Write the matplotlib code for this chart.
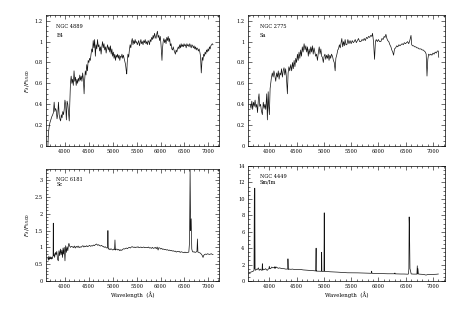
import matplotlib
matplotlib.use("Agg")
import matplotlib.pyplot as plt
from matplotlib.ticker import MultipleLocator, FuncFormatter

# ---------------- data ----------------
e4_wave = [3650,3660,3675,3690,3710,3730,3750,3765,3780,3795,3810,3825,3840,3855,3870,3885,3900,3915,3930,3945,
           3960,3975,3990,4005,4020,4035,4050,4065,4080,4095,4110,4120,4135,4150,4165,4180,4195,4210,4225,4240,
           4255,4270,4285,4300,4315,4330,4345,4360,4375,4390,4405,4415,4430,4445,4460,4475,4490,4505,4520,4535,
           4550,4565,4580,4595,4610,4625,4640,4655,4670,4685,4700,4715,4730,4745,4760,4775,4790,4805,4820,4835,
           4850,4865,4880,4895,4910,4925,4940,4955,4970,4985,5000,5015,5030,5045,5060,5075,5090,5105,5120,5135,
           5150,5165,5180,5195,5210,5225,5240,5255,5270,5285,5295,5305,5320,5335,5350,5365,5380,5395,5410,5425,
           5440,5455,5470,5485,5500,5515,5530,5545,5560,5575,5590,5605,5620,5635,5650,5665,5680,5695,5710,5725,
           5740,5755,5770,5785,5800,5815,5830,5845,5860,5875,5890,5905,5920,5935,5950,5965,5980,5995,6010,6020,
           6030,6040,6055,6070,6085,6100,6115,6130,6145,6160,6175,6190,6205,6220,6235,6250,6265,6280,6295,6310,
           6325,6340,6355,6370,6385,6400,6415,6430,6445,6460,6475,6490,6505,6520,6535,6550,6565,6580,6595,6610,
           6625,6640,6655,6670,6685,6700,6715,6730,6745,6760,6775,6790,6805,6820,6835,6850,6860,6870,6885,6900,
           6915,6930,6945,6960,6975,6990,7005,7020,7035,7050,7065,7080,7095]
e4_flux = [0.00,0.12,0.18,0.22,0.25,0.28,0.30,0.32,0.42,0.33,0.36,0.34,0.26,0.30,0.42,0.30,0.26,0.24,0.30,0.27,
           0.33,0.30,0.35,0.44,0.40,0.25,0.43,0.40,0.32,0.24,0.44,0.60,0.67,0.60,0.64,0.58,0.72,0.62,0.66,0.58,
           0.64,0.60,0.65,0.62,0.68,0.63,0.67,0.62,0.70,0.64,0.50,0.62,0.72,0.68,0.78,0.72,0.82,0.80,0.84,0.82,
           0.88,0.93,0.90,1.01,0.94,1.02,0.86,0.97,0.93,1.02,0.95,0.97,0.91,0.95,0.88,0.95,1.00,0.94,0.98,0.92,
           0.95,0.89,0.94,0.97,0.92,0.95,0.90,0.96,0.88,0.93,0.86,0.90,0.84,0.88,0.82,0.87,0.85,0.88,0.84,0.87,
           0.82,0.86,0.85,0.88,0.84,0.87,0.84,0.81,0.78,0.72,0.69,0.80,0.88,0.85,0.92,0.97,0.94,1.00,1.03,0.97,
           1.01,0.98,1.02,0.99,1.00,0.97,0.99,1.01,0.96,0.99,1.02,0.98,1.00,0.97,1.01,0.99,1.02,0.98,1.00,0.97,
           1.01,1.00,0.97,1.02,1.00,1.04,1.02,1.06,1.03,1.08,1.05,1.03,1.07,1.10,1.04,1.06,1.01,1.05,0.97,0.90,
           0.82,0.93,1.00,1.03,0.99,1.02,0.98,1.04,1.01,1.05,1.00,1.03,0.96,0.98,0.93,0.92,0.95,0.92,0.90,0.88,
           0.92,0.90,0.93,0.95,0.93,0.97,0.94,0.98,0.95,0.97,0.95,0.98,0.96,0.97,0.94,0.98,0.96,0.97,0.95,0.98,
           0.96,0.94,0.97,0.96,0.94,0.96,0.93,0.95,0.92,0.94,0.93,0.91,0.93,0.90,0.86,0.70,0.78,0.85,0.82,0.88,
           0.86,0.90,0.88,0.92,0.90,0.93,0.91,0.95,0.93,0.96,0.97,0.98,0.97]

sa_wave = [3650,3665,3680,3695,3710,3725,3740,3755,3770,3785,3800,3812,3825,3840,3855,3873,3890,3905,3920,3935,
           3953,3965,3980,3990,4002,4015,4038,4055,4070,4085,4100,4118,4135,4150,4165,4180,4195,4210,4225,4240,
           4255,4270,4285,4300,4315,4332,4345,4360,4375,4393,4410,4425,4440,4455,4470,4485,4500,4516,4530,4545,
           4560,4575,4590,4605,4620,4638,4655,4670,4685,4700,4715,4730,4745,4760,4775,4790,4805,4820,4835,4850,
           4865,4883,4900,4915,4930,4945,4960,4974,4990,5005,5020,5035,5050,5066,5080,5095,5110,5125,5140,5158,
           5175,5190,5207,5220,5240,5255,5268,5285,5300,5315,5329,5345,5360,5375,5390,5405,5421,5440,5460,5480,
           5500,5520,5540,5556,5575,5595,5615,5635,5655,5678,5700,5720,5740,5760,5780,5800,5820,5840,5860,5880,
           5892,5910,5929,5945,5960,5980,6000,6020,6045,6065,6085,6105,6120,6137,6155,6170,6190,6210,6229,6245,
           6262,6278,6295,6315,6335,6355,6375,6395,6413,6435,6455,6475,6495,6515,6535,6555,6575,6597,6610,6625,
           6645,6665,6685,6705,6725,6745,6765,6780,6800,6820,6840,6860,6875,6890,6905,6920,6940,6960,6980,7000,
           7020,7040,7060,7080,7097,7105]
sa_flux = [0.40,0.36,0.43,0.35,0.42,0.38,0.44,0.37,0.40,0.32,0.45,0.50,0.38,0.40,0.34,0.30,0.42,0.36,0.40,0.35,
           0.50,0.25,0.52,0.38,0.30,0.55,0.65,0.70,0.66,0.72,0.68,0.62,0.70,0.66,0.72,0.64,0.70,0.68,0.74,0.66,
           0.72,0.75,0.68,0.74,0.65,0.50,0.70,0.76,0.72,0.78,0.72,0.80,0.74,0.82,0.76,0.84,0.80,0.88,0.82,0.90,
           0.84,0.92,0.86,0.95,0.90,0.98,0.92,0.96,0.90,0.95,0.86,0.93,0.88,0.95,0.90,0.96,0.88,0.94,0.90,0.86,
           0.88,0.82,0.90,0.95,0.88,0.93,0.86,0.85,0.80,0.86,0.88,0.83,0.87,0.84,0.88,0.82,0.87,0.84,0.88,0.86,
           0.82,0.80,0.72,0.84,0.88,0.92,0.93,0.97,0.94,0.99,1.03,0.95,1.00,0.96,1.02,0.97,0.97,1.02,0.98,1.01,
           0.98,1.01,0.99,1.00,1.02,0.99,1.01,1.03,1.00,1.00,1.02,1.01,1.03,1.01,1.04,1.03,1.05,1.04,1.06,1.05,
           1.08,1.00,0.83,1.00,1.02,1.00,1.02,1.00,1.00,1.03,1.02,1.05,1.04,1.07,1.03,1.01,1.00,0.97,0.95,0.92,
           0.90,0.87,0.93,0.94,0.96,0.95,0.97,0.96,0.97,0.98,0.97,0.99,0.98,0.99,1.00,0.98,1.01,1.06,0.97,0.96,
           0.96,0.95,0.95,0.94,0.94,0.93,0.93,0.93,0.92,0.92,0.91,0.90,0.88,0.67,0.83,0.88,0.87,0.88,0.87,0.89,
           0.88,0.90,0.89,0.91,0.91,0.85]

sc_wave = [3650,3660,3670,3680,3690,3700,3710,3720,3730,3740,3750,3758,3762,3766,3775,3790,3805,3820,3835,3850,
           3867,3880,3895,3910,3925,3940,3955,3965,3975,3990,4006,4020,4035,4050,4065,4080,4089,4100,4120,4140,
           4160,4180,4200,4220,4240,4260,4280,4300,4320,4340,4360,4380,4400,4420,4440,4460,4480,4500,4520,4540,
           4560,4580,4600,4620,4640,4665,4690,4710,4730,4750,4770,4790,4805,4825,4845,4865,4885,4895,4902,4910,
           4925,4945,4965,4985,5005,5025,5040,5049,5058,5070,5090,5110,5130,5151,5170,5190,5210,5230,5250,5270,
           5290,5310,5330,5350,5370,5390,5410,5430,5450,5470,5490,5510,5530,5550,5570,5590,5610,5630,5650,5670,
           5690,5710,5730,5750,5770,5790,5810,5830,5850,5870,5890,5910,5930,5949,5965,5985,6005,6025,6045,6065,
           6085,6105,6125,6145,6165,6185,6205,6225,6245,6265,6285,6305,6330,6350,6370,6390,6410,6430,6450,6470,
           6490,6510,6530,6550,6570,6590,6605,6617,6628,6640,6652,6665,6680,6700,6720,6740,6760,6770,6780,6795,
           6810,6830,6850,6870,6887,6900,6920,6940,6960,6980,7000,7020,7040,7060,7080,7095]
sc_flux = [0.68,0.62,0.74,0.64,0.70,0.66,0.72,0.65,0.70,0.66,0.72,0.74,1.72,0.75,0.82,0.70,0.85,0.78,0.88,0.65,
           0.60,0.90,0.75,0.95,0.78,0.92,0.70,0.98,0.80,1.00,0.60,1.05,0.85,1.02,0.90,1.08,1.12,1.05,1.00,1.03,
           1.02,0.99,1.04,0.98,1.03,1.00,1.04,0.99,1.02,1.00,1.03,1.05,1.01,1.04,1.02,1.05,1.02,1.04,1.06,1.03,
           1.05,1.04,1.07,1.05,1.08,1.10,1.06,1.08,1.05,1.04,1.06,1.03,1.03,1.00,1.02,0.99,0.98,1.00,1.50,0.95,
           0.96,0.93,0.96,0.94,0.92,0.95,0.93,1.22,0.92,0.94,0.95,0.92,0.94,0.90,0.93,0.91,0.94,0.96,0.95,0.97,
           0.98,0.96,0.99,1.00,0.98,1.01,1.02,1.00,1.01,0.99,1.01,1.00,1.02,0.99,1.00,1.01,0.99,1.00,1.01,0.99,
           1.00,1.00,0.99,1.01,0.98,0.99,0.97,1.00,0.97,0.98,1.00,0.96,1.01,0.92,0.99,0.98,0.95,0.97,0.94,0.95,
           0.93,0.94,0.92,0.93,0.91,0.92,0.90,0.91,0.89,0.90,0.88,0.89,0.86,0.88,0.87,0.88,0.85,0.87,0.86,0.85,
           0.84,0.86,0.84,0.85,0.85,0.86,1.15,3.30,1.50,1.85,0.95,0.88,0.86,0.87,0.85,0.86,0.88,1.25,0.86,0.85,
           0.84,0.83,0.80,0.76,0.70,0.76,0.79,0.80,0.79,0.81,0.80,0.79,0.80,0.81,0.79,0.79]

sm_wave = [3628,3650,3670,3690,3708,3720,3726,3730,3734,3740,3750,3765,3781,3800,3815,3835,3855,3868,3873,3880,
           3895,3915,3934,3950,3965,3980,3995,4000,4010,4026,4045,4065,4087,4100,4104,4110,4130,4150,4170,4190,
           4210,4240,4270,4300,4325,4338,4342,4350,4370,4395,4424,4460,4500,4540,4577,4620,4660,4700,4740,4780,
           4820,4850,4858,4862,4866,4875,4900,4930,4950,4956,4960,4964,4975,4990,5002,5007,5012,5025,5067,5120,
           5189,5250,5311,5370,5434,5500,5556,5620,5679,5740,5801,5850,5870,5876,5882,5900,5950,6000,6046,6110,
           6170,6230,6280,6298,6302,6306,6340,6413,6470,6536,6550,6558,6563,6570,6578,6586,6600,6640,6680,6705,
           6712,6718,6724,6732,6740,6780,6830,6872,6900,6950,7000,7025,7060,7098]
sm_flux = [1.00,1.05,1.10,1.15,1.20,1.30,10.5,1.50,11.3,1.40,1.30,1.45,1.40,1.60,1.30,1.45,1.30,1.40,2.10,1.30,
           1.45,1.40,1.50,1.35,1.30,1.45,1.50,1.80,1.50,1.50,1.70,1.60,1.65,1.55,1.75,1.55,1.70,1.60,1.55,1.60,
           1.55,1.50,1.50,1.45,1.45,1.45,2.70,1.40,1.45,1.42,1.45,1.40,1.40,1.38,1.40,1.35,1.33,1.30,1.28,1.27,
           1.25,1.22,4.00,1.20,1.25,1.20,1.20,1.19,1.18,1.20,3.50,1.18,1.16,1.16,1.20,8.30,1.16,1.15,1.15,1.12,
           1.10,1.08,1.05,1.03,1.00,1.00,1.00,0.99,0.98,0.97,0.95,0.95,0.94,1.20,0.94,0.93,0.92,0.91,0.90,0.89,
           0.88,0.88,0.87,0.88,0.98,0.87,0.86,0.85,0.85,0.83,0.85,1.50,7.80,6.20,1.50,1.30,0.86,0.84,0.84,0.84,
           1.85,0.86,1.50,0.86,0.84,0.82,0.80,0.72,0.78,0.79,0.80,0.80,0.82,0.85]

panels = [
    dict(name="NGC 4889", typ="E4", wave=e4_wave, flux=e4_flux),
    dict(name="NGC 2775", typ="Sa", wave=sa_wave, flux=sa_flux),
    dict(name="NGC 6181", typ="Sc", wave=sc_wave, flux=sc_flux),
    dict(name="NGC 4449", typ="Sm/Im", wave=sm_wave, flux=sm_flux),
]
ylims = [(0, 1.255), (0, 1.255), (0, 3.33), (0, 14.0)]
ymajor = [0.2, 0.2, 0.5, 2]
yminor = [0.05, 0.05, 0.1, 0.5]
xticks = [4000, 4500, 5000, 5500, 6000, 6500, 7000]

# ---------------- figure ----------------
W, H = 468, 312
fig = plt.figure(figsize=(W / 100, H / 100), dpi=100)
plt.rcParams['font.family'] = ['DejaVu Serif']
fs = 3.6

# pixel boxes: left, right, top, bottom
boxes = [(46, 219, 15, 146), (248, 445, 15, 146), (46, 219, 169, 281), (248, 445, 166, 281)]


def fmt(v, pos):
    if abs(v - round(v)) < 1e-9:
        return "%d" % round(v)
    return ("%g" % v)


for i, (p, b) in enumerate(zip(panels, boxes)):
    l, r, t, bt = b
    ax = fig.add_axes([l / W, (H - bt) / H, (r - l) / W, (bt - t) / H])
    ax.plot(p["wave"], p["flux"], color="#111111", lw=0.5)
    ax.set_xlim(3610, 7220)
    ax.set_ylim(*ylims[i])
    ax.set_xticks(xticks)
    ax.xaxis.set_minor_locator(MultipleLocator(100))
    ax.yaxis.set_major_locator(MultipleLocator(ymajor[i]))
    ax.yaxis.set_minor_locator(MultipleLocator(yminor[i]))
    ax.yaxis.set_major_formatter(FuncFormatter(fmt))
    ax.tick_params(which="both", direction="in", top=True, right=True, labelsize=fs,
                   width=0.4, pad=2.5, colors="black")
    ax.tick_params(which="major", length=3)
    ax.tick_params(which="minor", length=1.5)
    for s in ax.spines.values():
        s.set_linewidth(0.5)
    ax.text(0.06, 0.93, p["name"], transform=ax.transAxes, fontsize=fs, va="top", ha="left")
    ax.text(0.06, 0.86 if i < 2 else 0.88, p["typ"], transform=ax.transAxes, fontsize=fs, va="top", ha="left")
    if i >= 2:
        ax.set_xlabel("Wavelength  (Å)", fontsize=fs + 0.3, labelpad=1)
    if i % 2 == 0:
        ax.set_ylabel(r"$F_\lambda/F_{5500}$", fontsize=fs + 0.8, labelpad=2)

fig.savefig("out.png", dpi=100)
